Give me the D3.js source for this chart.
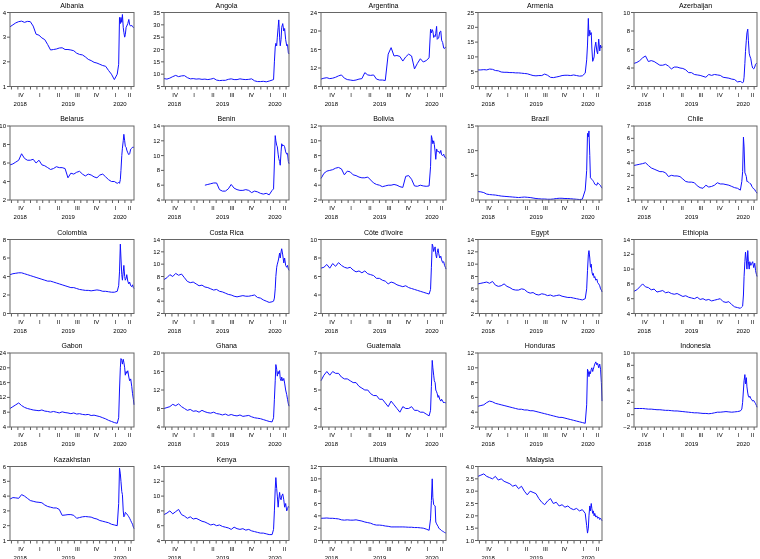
<!DOCTYPE html>
<html>
<head>
<meta charset="utf-8">
<script src="https://cdn.jsdelivr.net/npm/d3@7"></script>
<style>
  body { margin: 0; background: #fff; }
  svg { will-change: transform; }
  text { font-family: "Liberation Sans", Arial, sans-serif; fill: #000; }
</style>
</head>
<body>
<div id="chart"></div>
<script>
// observation dates (biweekly until Feb 2020, then every few days)
const dates = [
  '2018-09-24','2018-10-08','2018-10-22','2018-11-05','2018-11-19','2018-12-03','2018-12-17','2018-12-31',
  '2019-01-14','2019-01-28','2019-02-11','2019-02-25','2019-03-11','2019-03-25','2019-04-08','2019-04-22',
  '2019-05-06','2019-05-20','2019-06-03','2019-06-17','2019-07-01','2019-07-15','2019-07-29','2019-08-12',
  '2019-08-26','2019-09-09','2019-09-23','2019-10-07','2019-10-21','2019-11-04','2019-11-18','2019-12-02',
  '2019-12-16','2019-12-30','2020-01-13','2020-01-27','2020-02-10','2020-02-24',
  '2020-03-02','2020-03-06','2020-03-10','2020-03-13','2020-03-17','2020-03-20','2020-03-24','2020-03-27',
  '2020-03-31','2020-04-03','2020-04-07','2020-04-10','2020-04-15','2020-04-20','2020-04-24','2020-04-29',
  '2020-05-04','2020-05-08','2020-05-12','2020-05-15'
]

const albania = [3.42,3.5,3.58,3.63,3.65,3.6,3.64,3.63,3.45,3.12,3.08,2.97,2.9,2.7,2.48,2.5,2.52,2.56,2.57,2.5,2.5,2.48,2.45,2.35,2.3,2.28,2.2,2.1,2.05,1.98,1.95,1.9,1.85,1.82,1.65,1.5,1.28,1.5,
  1.9,3.8,3.55,3.8,3.6,3.92,3.4,3.2,3.0,3.1,3.4,3.45,3.55,3.72,3.5,3.45,3.48,3.42,3.4,3.38]
const angola = [8.2,8.0,8.4,9.0,9.5,9.0,9.3,9.4,8.6,8.1,8.2,8.0,8.1,7.9,8.0,7.8,8.0,8.3,7.6,7.4,7.5,7.5,7.9,8.1,7.8,7.8,8.1,7.9,7.8,7.9,8.1,7.3,7.0,7.0,7.1,6.9,7.2,7.6,
  7.8,15,21,22.5,21.5,25,29,32,25,21.5,24,29,30.5,27.5,28.5,24,21.5,22,18.6,18.2]
const argentina = [9.6,9.8,9.9,9.7,9.8,10.0,10.3,10.5,9.8,9.5,9.4,9.3,9.4,9.6,9.7,11.0,10.5,10.4,10.5,9.6,9.4,9.4,9.3,15.0,16.4,14.6,14.7,14.5,13.5,14.4,15.0,14.6,11.8,13.0,14.0,13.3,13.6,14.2,
  20.4,19.6,20.3,20.0,18.6,19.0,18.8,19.5,21.0,18.2,18.4,18.5,19.8,20.0,18.0,17.5,16.3,16.2,16.5,16.4]
const armenia = [5.6,5.6,5.7,5.6,5.9,5.8,5.4,5.3,4.9,4.8,4.8,4.7,4.7,4.6,4.6,4.5,4.4,4.3,4.0,3.7,3.6,3.7,3.7,4.2,3.8,3.1,3.0,3.2,3.4,3.7,3.8,3.8,3.7,3.9,3.7,3.5,3.6,4.5,
  9,14,23,17,19,17.5,18.2,13,8.5,9,10,13,15,12,11,16,12,14,13,13.5]
const azerbaijan = [4.5,4.6,4.8,5.1,5.3,4.7,4.8,4.7,4.5,4.3,4.3,4.4,4.2,3.9,4.1,4.1,4.0,3.95,3.8,3.5,3.5,3.3,3.25,3.2,3.1,3.0,3.3,3.2,3.3,3.25,3.2,3.0,2.95,2.9,2.8,2.75,2.5,2.55,
  2.45,2.4,2.5,3.0,4.5,5.8,7.0,7.8,8.2,7.0,5.6,5.3,5.0,4.3,4.0,3.9,4.1,4.4,4.5,4.45]
const belarus = [5.8,5.9,6.1,6.3,7.0,6.5,6.3,6.3,6.4,6.0,6.3,5.8,5.7,5.5,5.3,5.4,5.6,5.5,5.5,5.4,4.4,4.9,4.8,5.0,5.1,4.8,4.6,4.8,4.7,4.5,4.4,4.7,4.8,4.5,4.2,4.0,4.0,3.8,
  3.9,3.8,4.2,5.2,6.8,7.6,8.4,9.1,8.4,7.8,7.7,7.4,7.1,6.9,7.0,7.5,7.6,7.7,7.7,7.7]
const benin = [null,null,null,null,null,null,null,null,null,null,null,null,null,null,6.0,6.1,6.2,6.3,6.3,5.4,5.2,5.2,5.5,6.1,5.6,5.4,5.3,5.3,5.4,5.3,5.0,5.2,5.1,4.9,4.8,4.9,4.7,5.3,
  5.5,9.0,12.7,12.0,11.4,11.2,10.2,9.6,9.2,8.7,10.5,11.6,11.3,11.4,11.2,10.5,10.2,10.3,9.2,8.9]
const bolivia = [4.9,5.6,5.9,6.0,6.1,6.3,6.4,6.2,5.4,5.9,5.8,5.4,5.3,5.1,5.0,5.0,5.1,4.7,4.3,4.1,4.0,3.8,3.9,4.0,4.0,4.1,4.0,3.8,3.7,5.2,5.3,4.8,3.9,3.85,4.0,3.9,3.85,3.9,
  6.5,10.7,10.2,9.6,10.0,9.5,8.5,7.5,8.9,8.7,8.5,8.6,8.3,8.7,8.1,8.0,8.2,7.8,7.8,7.6]
const brazil = [1.7,1.65,1.5,1.2,1.1,1.05,1.0,0.9,0.8,0.75,0.7,0.65,0.6,0.55,0.5,0.55,0.6,0.55,0.5,0.4,0.3,0.25,0.2,0.2,0.15,0.15,0.2,0.3,0.35,0.35,0.3,0.3,0.25,0.2,0.15,0.1,0.15,2.0,
  6.0,13.5,12.8,14.0,9.0,4.5,4.3,4.2,4.0,3.8,3.5,3.2,3.1,3.0,3.5,3.3,3.1,2.9,2.6,2.4]
const chile = [3.8,3.85,3.9,3.95,4.02,3.8,3.6,3.5,3.4,3.3,3.3,3.2,2.9,3.0,2.95,2.95,2.9,2.7,2.5,2.45,2.45,2.4,2.15,2.0,1.95,2.2,2.05,2.1,2.2,2.4,2.3,2.3,2.25,2.2,2.1,2.0,1.95,1.8,
  2.5,3.3,6.1,5.3,3.2,3.1,2.9,2.5,2.5,2.45,2.4,2.35,2.3,2.1,2.0,1.9,1.85,1.7,1.65,1.55]
const colombia = [4.2,4.3,4.35,4.4,4.4,4.3,4.2,4.1,4.0,3.9,3.8,3.7,3.6,3.5,3.5,3.4,3.3,3.2,3.1,3.0,2.9,2.8,2.8,2.7,2.6,2.55,2.5,2.5,2.45,2.5,2.55,2.5,2.4,2.4,2.35,2.3,2.3,2.4,
  3.0,4.5,7.5,6.0,4.2,3.6,4.5,5.2,4.0,3.6,3.8,4.2,3.5,3.2,3.4,3.0,2.9,3.1,2.8,2.7]
const costaRica = [7.5,7.8,8.3,8.0,8.5,8.2,8.4,7.8,7.2,7.0,7.1,6.8,6.5,6.6,6.3,6.2,6.0,5.8,5.9,5.6,5.5,5.3,5.1,5.0,4.8,4.7,4.8,4.9,4.8,4.8,4.9,5.0,4.6,4.5,4.2,4.0,3.8,3.9,
  4.0,4.5,6.0,8.0,9.5,10.0,10.5,11.0,11.8,11.0,12.0,12.5,11.5,10.2,11.0,9.8,9.5,9.8,9.2,9.0]
const coteDivoire = [6.9,7.0,7.3,6.9,7.4,7.1,7.5,7.2,7.0,6.9,7.0,6.7,6.5,6.6,6.4,6.6,6.3,6.2,6.1,5.8,5.8,5.6,5.5,5.2,5.4,5.3,5.1,5.0,4.9,5.0,4.8,4.7,4.6,4.5,4.4,4.3,4.2,4.1,
  4.6,7.0,9.5,9.3,8.7,9.0,9.2,8.4,8.0,8.6,9.0,8.5,8.0,8.2,7.8,7.5,7.6,7.2,7.0,6.8]
const egypt = [6.8,6.9,7.0,7.1,6.9,7.2,6.6,6.4,6.5,6.8,6.4,6.2,5.9,5.8,5.8,6.0,5.9,5.5,5.3,5.4,5.1,5.0,5.2,5.1,4.9,5.0,4.8,4.9,5.0,4.8,4.7,4.6,4.6,4.5,4.4,4.3,4.2,4.4,
  6.0,9.0,11.5,12.2,11.0,9.5,10.0,8.8,8.2,8.5,7.8,8.0,7.4,7.6,7.0,6.8,6.5,6.0,5.8,5.5]
const ethiopia = [7.0,7.2,7.6,8.0,7.6,7.5,7.2,7.3,6.9,7.0,7.1,6.8,6.9,6.7,6.6,6.7,6.5,6.3,6.4,6.2,6.1,6.0,6.2,5.9,6.0,5.8,5.9,5.7,5.8,5.9,6.0,5.6,5.5,5.6,5.2,4.9,4.8,4.7,
  4.9,5.0,6.5,9.0,11.0,12.3,11.2,10.0,12.5,11.0,10.0,11.0,10.5,10.8,11.0,10.2,10.8,9.8,9.3,9.0]
const gabon = [9.0,9.5,10.0,10.5,9.8,9.3,9.0,8.8,8.6,8.5,8.4,8.6,8.3,8.2,8.0,8.2,8.0,7.8,8.1,7.9,7.8,7.6,7.8,7.5,7.6,7.4,7.3,7.4,7.1,7.2,7.0,6.8,6.5,6.2,5.8,5.5,5.2,5.0,
  6.5,14,20.0,22.5,22.0,21.0,22.3,21.5,20.0,18.0,19.0,18.5,19.2,17.5,16.5,17.0,15.0,13.0,11.5,10.0]
const ghana = [8.0,8.2,8.4,8.9,8.6,9.0,8.4,8.0,7.6,7.8,7.4,7.5,7.2,7.6,7.3,7.1,7.0,7.2,6.9,6.8,6.6,6.8,6.5,6.7,6.5,6.4,6.6,6.3,6.4,6.5,6.2,6.0,5.9,5.8,5.6,5.4,5.2,5.1,
  6.0,10.0,14.0,17.5,16.5,15.0,16.0,15.5,16.2,14.5,14.0,14.8,14.0,14.5,13.5,12.0,11.0,10.0,9.0,8.5]
const guatemala = [5.5,5.8,6.0,5.8,6.0,5.9,5.9,5.7,5.6,5.6,5.5,5.4,5.4,5.2,5.1,5.0,5.0,4.8,4.7,4.7,4.5,4.5,4.3,4.1,4.4,4.2,4.0,3.8,4.1,4.0,4.0,4.1,3.9,3.9,3.8,3.8,3.7,3.6,
  3.9,5.2,6.6,6.2,5.8,5.5,5.4,5.0,4.9,4.8,4.6,4.7,4.5,4.4,4.5,4.4,4.3,4.35,4.3,4.3]
const honduras = [4.8,4.9,5.0,5.3,5.5,5.4,5.2,5.1,5.0,4.9,4.8,4.7,4.6,4.5,4.4,4.4,4.3,4.3,4.2,4.2,4.1,4.0,3.9,3.8,3.7,3.6,3.5,3.4,3.3,3.3,3.2,3.1,3.0,2.9,2.8,2.7,2.6,2.5,
  5.0,9.8,9.5,8.8,9.5,9.2,9.8,10.0,9.5,9.8,10.2,10.5,10.8,10.4,10.6,10.0,10.5,9.8,8.0,5.5]
const indonesia = [1.0,1.0,1.0,1.0,0.95,0.9,0.9,0.85,0.8,0.8,0.75,0.7,0.7,0.65,0.6,0.6,0.55,0.5,0.45,0.4,0.35,0.3,0.3,0.25,0.2,0.2,0.15,0.2,0.3,0.4,0.4,0.45,0.5,0.45,0.4,0.45,0.5,0.6,
  0.9,2.0,4.0,5.5,6.5,5.0,6.0,4.5,3.5,3.0,2.8,3.0,2.6,2.4,2.2,2.3,2.0,1.8,1.5,1.2]
const kazakhstan = [3.8,3.9,3.88,3.85,4.1,4.0,3.85,3.7,3.65,3.6,3.58,3.55,3.4,3.3,3.25,3.2,3.2,3.1,2.7,2.72,2.75,2.75,2.7,2.5,2.55,2.6,2.62,2.6,2.58,2.5,2.45,2.35,2.3,2.25,2.2,2.1,2.05,2.0,
  3.5,5.9,5.5,5.0,4.3,4.1,3.0,2.6,2.7,2.9,2.85,2.8,2.7,2.6,2.5,2.35,2.2,2.1,1.9,1.8]
const kenya = [7.5,7.7,8.0,7.6,7.9,8.2,7.5,7.3,7.0,7.2,6.9,7.0,6.8,6.6,6.5,6.3,6.1,6.2,6.0,6.1,5.9,5.8,5.7,5.5,5.8,5.6,5.5,5.6,5.4,5.5,5.3,5.2,5.1,5.0,5.0,4.9,4.8,4.8,
  5.5,8.0,11.0,12.5,11.0,10.0,8.5,9.5,10.5,9.8,9.5,10.0,10.3,9.5,8.5,9.0,8.0,8.3,8.6,8.5]
const lithuania = [3.6,3.62,3.65,3.6,3.6,3.55,3.5,3.35,3.3,3.35,3.3,3.3,3.35,3.25,3.15,3.0,2.9,2.8,2.6,2.5,2.5,2.45,2.35,2.3,2.2,2.2,2.2,2.2,2.2,2.18,2.15,2.15,2.1,2.1,2.05,2.0,1.85,1.65,
  3.5,6.5,10.0,7.0,5.8,5.7,5.6,3.0,2.7,2.5,2.3,2.0,1.9,1.7,1.6,1.5,1.4,1.3,1.25,1.2]
const malaysia = [3.6,3.65,3.7,3.6,3.55,3.5,3.6,3.45,3.5,3.4,3.35,3.3,3.2,3.25,3.1,3.2,3.0,2.85,3.0,2.95,2.9,2.7,2.55,2.45,2.6,2.7,2.5,2.55,2.4,2.45,2.35,2.4,2.3,2.25,2.3,2.2,2.25,2.1,
  1.6,1.3,1.5,2.0,2.4,2.2,2.5,2.3,2.1,2.2,2.0,2.1,1.95,2.0,1.9,1.95,1.85,1.9,1.85,1.8]

const countries = ['Albania','Angola','Argentina','Armenia','Azerbaijan','Belarus','Benin','Bolivia','Brazil','Chile',
  'Colombia','Costa Rica',"Côte d'Ivoire",'Egypt','Ethiopia','Gabon','Ghana','Guatemala','Honduras','Indonesia',
  'Kazakhstan','Kenya','Lithuania','Malaysia']
const series = [albania, angola, argentina, armenia, azerbaijan, belarus, benin, bolivia, brazil, chile,
  colombia, costaRica, coteDivoire, egypt, ethiopia, gabon, ghana, guatemala, honduras, indonesia,
  kazakhstan, kenya, lithuania, malaysia]
// y axis [min, max, step] per panel
const yAxes = [[1,4,1],[5,35,5],[8,24,4],[0,25,5],[2,10,2],[2,10,2],[4,14,2],[2,12,2],[0,15,5],[1,7,1],
  [0,8,2],[2,14,2],[2,10,2],[2,14,2],[4,14,2],[4,24,4],[4,20,4],[3,7,1],[2,12,2],[-2,10,2],
  [1,6,1],[4,14,2],[0,12,2],[1,4,0.5]]
const quarterNames = ['I','II','III','IV']

const width = 760
const height = 559
const colLeft = [10, 164, 321, 478, 634]
const colRight = [134, 289, 446, 602, 757]
const rowTop = [12.5, 126, 239.5, 353, 466.5]
const plotH = 74

const parse = d3.timeParse('%Y-%m-%d')
const dateObjs = dates.map(parse)
const xStart = parse('2018-09-24')
const xEnd = parse('2020-05-15')

const svg = d3.select('#chart').append('svg')
    .attr('width', width)
    .attr('height', height)

countries.forEach((name, i) => {
    const col = i % 5
    const row = Math.floor(i / 5)
    const left = colLeft[col]
    const right = colRight[col]
    const top = rowTop[row]
    const bottom = top + plotH

    const x = d3.scaleTime().domain([xStart, xEnd]).range([left, right])
    const [ymin, ymax, step] = yAxes[i]
    const y = d3.scaleLinear().domain([ymin, ymax]).range([bottom, top])
    const fmt = step < 1 ? d3.format('.1f') : d3.format('d')

    const g = svg.append('g')

    g.append('text')
        .attr('x', (left + right) / 2)
        .attr('y', top - 5)
        .attr('text-anchor', 'middle')
        .attr('font-size', 7)
        .text(name)

    // y ticks
    const yt = d3.range(ymin, ymax + step / 2, step)
    g.selectAll('.yt').data(yt).enter().append('line')
        .attr('x1', left - 3).attr('x2', left)
        .attr('y1', d => y(d)).attr('y2', d => y(d))
        .attr('stroke', '#333').attr('stroke-width', 0.8)
    g.selectAll('.yl').data(yt).enter().append('text')
        .attr('x', left - 4)
        .attr('y', d => y(d) + 2)
        .attr('text-anchor', 'end')
        .attr('font-size', 6)
        .text(d => fmt(d))

    // month ticks
    const months = d3.timeMonth.range(d3.timeMonth.ceil(xStart), xEnd)
    g.selectAll('.xt').data(months).enter().append('line')
        .attr('x1', d => x(d)).attr('x2', d => x(d))
        .attr('y1', bottom).attr('y2', bottom + 3)
        .attr('stroke', '#333').attr('stroke-width', 0.8)

    // quarter labels, centred on the visible part of each quarter
    const quarters = d3.timeMonth.every(3).range(parse('2018-07-01'), xEnd)
    quarters.forEach(q => {
        const a = Math.max(x(q), left)
        const b = Math.min(x(d3.timeMonth.offset(q, 3)), right)
        if (b - a < 6) return
        g.append('text')
            .attr('x', (a + b) / 2)
            .attr('y', bottom + 10)
            .attr('text-anchor', 'middle')
            .attr('font-size', 6)
            .text(quarterNames[Math.floor(q.getMonth() / 3)])
    })

    // year labels
    d3.timeYear.range(parse('2018-01-01'), xEnd).forEach(yr => {
        const a = Math.max(x(yr), left)
        const b = Math.min(x(d3.timeYear.offset(yr, 1)), right)
        g.append('text')
            .attr('x', (a + b) / 2)
            .attr('y', bottom + 19)
            .attr('text-anchor', 'middle')
            .attr('font-size', 6)
            .text(yr.getFullYear())
    })

    const line = d3.line()
        .defined(d => d != null)
        .x((d, j) => x(dateObjs[j]))
        .y(d => y(d))

    g.append('path')
        .datum(series[i])
        .attr('d', line)
        .attr('fill', 'none')
        .attr('stroke', '#1010ff')
        .attr('stroke-width', 1)

    g.append('rect')
        .attr('x', left).attr('y', top)
        .attr('width', right - left).attr('height', plotH)
        .attr('fill', 'none')
        .attr('stroke', '#666')
        .attr('stroke-width', 1)
})
</script>
</body>
</html>
